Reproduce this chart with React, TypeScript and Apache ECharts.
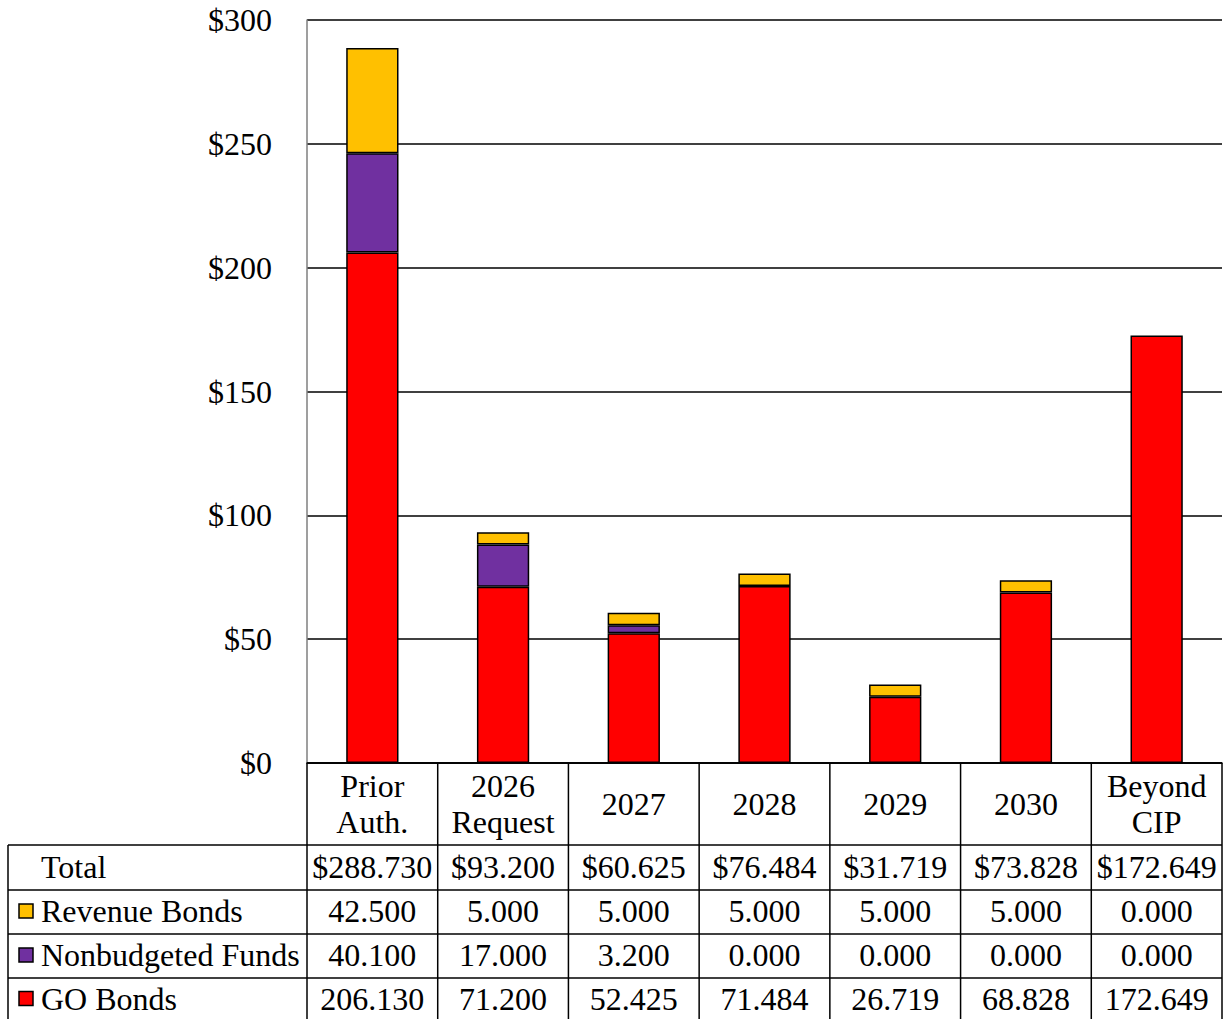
import React, { useEffect, useRef } from "react";
import * as echarts from "echarts";

const categories = ["Prior\nAuth.", "2026\nRequest", "2027", "2028", "2029", "2030", "Beyond\nCIP"];
const goBonds = [206.13, 71.2, 52.425, 71.484, 26.719, 68.828, 172.649];
const nonbudgeted = [40.1, 17.0, 3.2, 0.0, 0.0, 0.0, 0.0];
const revenueBonds = [42.5, 5.0, 5.0, 5.0, 5.0, 5.0, 0.0];
const totals = [288.73, 93.2, 60.625, 76.484, 31.719, 73.828, 172.649];
const yTicks = [0, 50, 100, 150, 200, 250, 300];

const RED = "#FF0000";
const PURPLE = "#7030A0";
const YELLOW = "#FFC000";
const FONT = "Liberation Serif";
const FS = 32;

export default function App() {
  const ref = useRef<HTMLDivElement>(null);
  useEffect(() => {
    const chart = echarts.init(ref.current!, null, { renderer: "svg" });
    const barStyle = (c: string) => ({ color: c, borderColor: "#000", borderWidth: 1.5 });
    const skipZero = (arr: number[]) => arr.map((v) => (v === 0 ? "-" : v));
    chart.setOption({
      animation: false,
      textStyle: { fontFamily: FONT },
      grid: { left: 307, right: 2, top: 20, bottom: 256, containLabel: false },
      xAxis: {
        type: "category",
        data: categories,
        axisLine: { show: true, lineStyle: { color: "#000", width: 1.5 } },
        axisTick: { show: false },
        axisLabel: { show: false },
      },
      yAxis: {
        type: "value",
        min: yTicks[0],
        max: yTicks[yTicks.length - 1],
        interval: 50,
        axisLine: { show: true, lineStyle: { color: "#7f7f7f", width: 1.5 } },
        axisTick: { show: false },
        axisLabel: {
          formatter: (v: number) => "$" + v,
          fontFamily: FONT,
          fontSize: FS,
          color: "#000",
          margin: 35,
        },
        splitLine: { show: true, lineStyle: { color: "#000", width: 1.5 } },
      },
      series: [
        { name: "GO Bonds", type: "bar", stack: "t", data: skipZero(goBonds), barWidth: "40%", itemStyle: barStyle(RED) },
        { name: "Nonbudgeted Funds", type: "bar", stack: "t", data: skipZero(nonbudgeted), barWidth: "40%", itemStyle: barStyle(PURPLE) },
        { name: "Revenue Bonds", type: "bar", stack: "t", data: skipZero(revenueBonds), barWidth: "40%", itemStyle: barStyle(YELLOW) },
      ],
    });

    // Build data table from axis positions
    const centers = categories.map((_, i) => chart.convertToPixel({ xAxisIndex: 0 }, i) as number);
    const half = (centers[1] - centers[0]) / 2;
    const y0 = chart.convertToPixel({ yAxisIndex: 0 }, 0) as number;
    const leftX = 8;
    const plotLeft = centers[0] - half;
    const plotRight = centers[centers.length - 1] + half;
    const rowTops = [y0, y0 + 82, y0 + 127, y0 + 171, y0 + 215, y0 + 258];
    const lineStyle = { stroke: "#000", lineWidth: 1.5 };
    const els: any[] = [];
    const line = (x1: number, y1: number, x2: number, y2: number) =>
      els.push({ type: "line", shape: { x1, y1, x2, y2 }, style: lineStyle, z: 100 });
    line(plotLeft, rowTops[0], plotRight, rowTops[0]);
    for (let r = 1; r < rowTops.length; r++) line(leftX, rowTops[r], plotRight, rowTops[r]);
    line(leftX, rowTops[1], leftX, rowTops[5]);
    for (let i = 0; i <= categories.length; i++) {
      const x = plotLeft + i * 2 * half;
      line(x, rowTops[0], x, rowTops[5]);
    }
    const txt = (text: string, x: number, y: number, align: string) =>
      els.push({
        type: "text",
        x,
        y,
        z: 101,
        style: { text, fontFamily: FONT, fontSize: FS, fill: "#000", align, verticalAlign: "middle", lineHeight: 36 },
      });
    const mid = (r: number) => (rowTops[r] + rowTops[r + 1]) / 2;
    categories.forEach((c, i) => txt(c, centers[i], mid(0), "center"));
    const fmt = (v: number) => v.toFixed(3);
    const rows: { label: string; color: string | null; vals: string[] }[] = [
      { label: "Total", color: null, vals: totals.map((v) => "$" + fmt(v)) },
      { label: "Revenue Bonds", color: YELLOW, vals: revenueBonds.map(fmt) },
      { label: "Nonbudgeted Funds", color: PURPLE, vals: nonbudgeted.map(fmt) },
      { label: "GO Bonds", color: RED, vals: goBonds.map(fmt) },
    ];
    rows.forEach((row, ri) => {
      const y = mid(ri + 1) - 1;
      txt(row.label, 41, y, "left");
      if (row.color) {
        els.push({
          type: "rect",
          shape: { x: 19, y: y - 7, width: 14, height: 14 },
          style: { fill: row.color, stroke: "#000", lineWidth: 1.5 },
          z: 101,
        });
      }
      row.vals.forEach((v, i) => txt(v, centers[i], y, "center"));
    });
    chart.setOption({ graphic: { elements: els } });
    return () => chart.dispose();
  }, []);
  return <div ref={ref} style={{ position: "fixed", left: 0, top: 0, width: 1224, height: 1019, background: "#fff" }} />;
}
